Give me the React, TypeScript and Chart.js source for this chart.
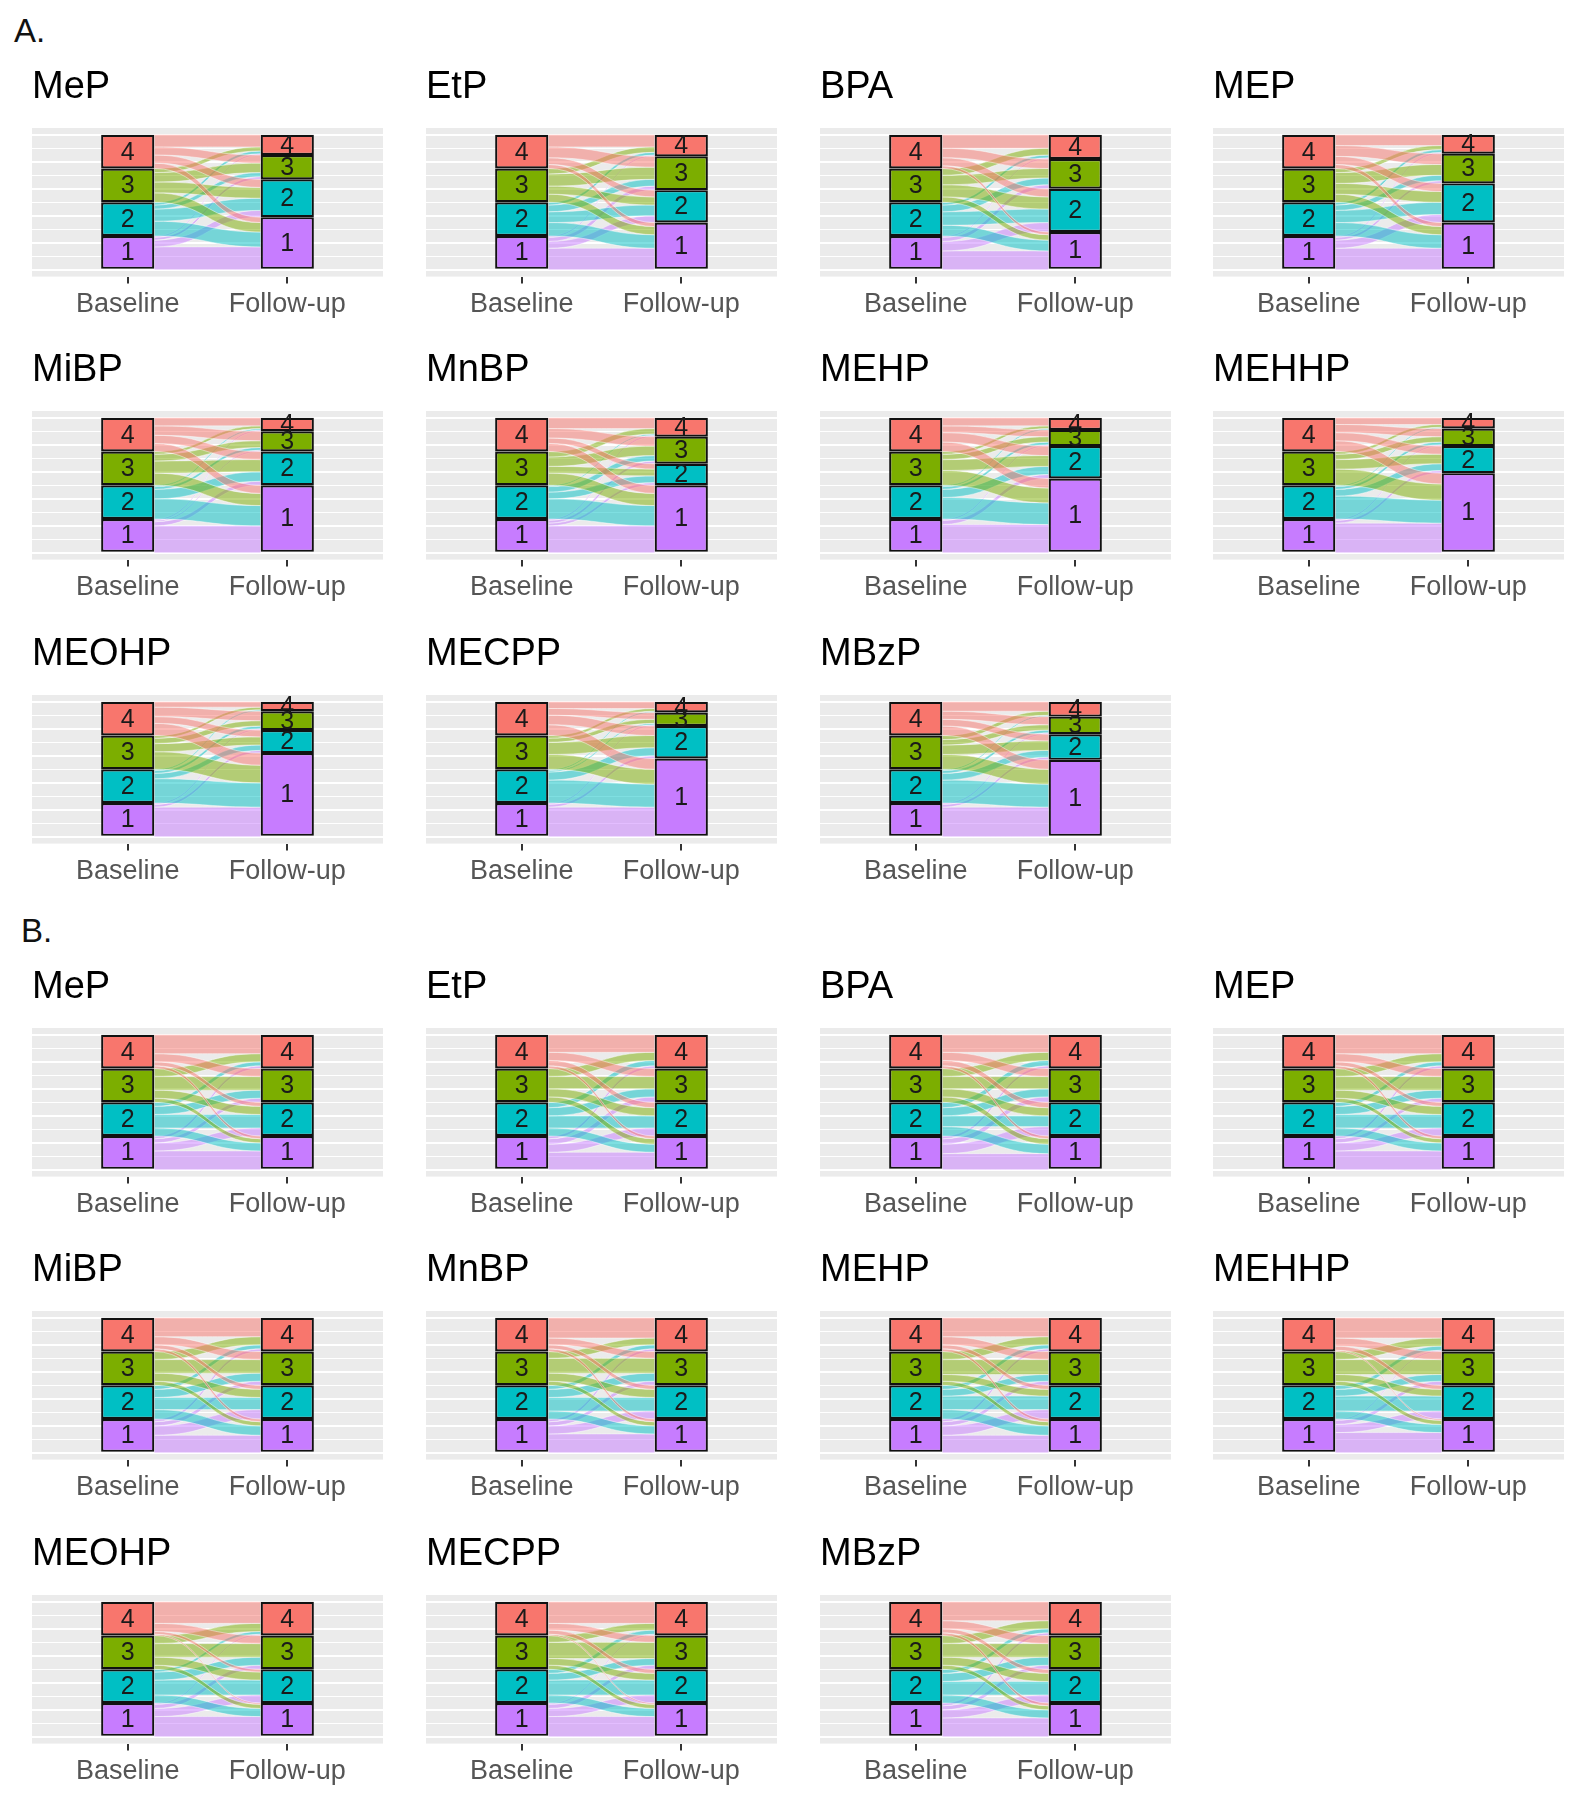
import React, { useEffect, useRef } from 'react';
import { Chart, registerables } from 'chart.js';

Chart.register(...registerables);

const FONT = '"Liberation Sans", Arial, Helvetica, sans-serif';

// ---------- data ----------
const TIMEPOINTS = ['Baseline', 'Follow-up'];
const TIMEPOINT_X = [1, 2];
const QUARTILES = ['1', '2', '3', '4'];
const QUARTILE_COLORS = ['#C77CFF', '#00BFC4', '#7CAE00', '#F8766D'];
const QUARTILE_FLOW_COLORS = [
  'rgba(199,124,255,0.5)',
  'rgba(0,191,196,0.5)',
  'rgba(124,174,0,0.5)',
  'rgba(248,118,109,0.5)',
];
const Y_GRID_TICKS = [0, 10, 20, 30, 40, 50, 60, 70, 80, 90, 100];
const ANALYTES = ['MeP', 'EtP', 'BPA', 'MEP', 'MiBP', 'MnBP', 'MEHP', 'MEHHP', 'MEOHP', 'MECPP', 'MBzP'];
const SECTIONS = ['A.', 'B.'];

// Transitions (% of participants): rows = baseline quartile 1..4, columns = follow-up quartile 1..4
// Section A
const A_MeP = [[17, 5, 2, 1], [11, 9, 3, 2], [7, 8, 7, 3], [4, 6, 6, 9]];
const A_EtP = [[16, 5, 3, 1], [10, 8, 5, 2], [6, 6, 9, 4], [3, 5, 8, 9]];
const A_BPA = [[14, 7, 3, 1], [8, 10, 5, 2], [4, 9, 7, 5], [2, 6, 7, 10]];
const A_MEP = [[16, 6, 2, 1], [10, 9, 4, 2], [6, 8, 8, 3], [3, 6, 8, 8]];
const A_MiBP = [[20, 3, 1, 1], [15, 7, 2, 1], [9, 9, 5, 2], [6, 6, 7, 6]];
const A_MnBP = [[20, 2, 2, 1], [15, 5, 4, 1], [9, 5, 7, 4], [6, 4, 7, 8]];
const A_MEHP = [[21, 3, 1, 0], [16, 6, 2, 1], [11, 8, 4, 2], [7, 7, 5, 6]];
const A_MEHHP = [[22, 2, 1, 0], [17, 5, 2, 1], [12, 7, 4, 2], [8, 6, 6, 5]];
const A_MEOHP = [[22, 2, 1, 0], [18, 4, 2, 1], [13, 6, 4, 2], [9, 5, 7, 4]];
const A_MECPP = [[22, 2, 1, 0], [17, 6, 1, 1], [11, 9, 3, 2], [8, 7, 5, 5]];
const A_MBzP = [[22, 2, 1, 0], [17, 5, 2, 1], [11, 7, 4, 3], [7, 5, 6, 7]];
// Section B
const B_MeP = [[14, 6, 3, 2], [6, 10, 6, 3], [3, 6, 10, 6], [2, 3, 6, 14]];
const B_EtP = [[13, 6, 4, 2], [6, 9, 6, 4], [4, 6, 9, 6], [2, 4, 6, 13]];
const B_BPA = [[12, 7, 4, 2], [7, 8, 6, 4], [4, 6, 9, 6], [2, 4, 6, 13]];
const B_MEP = [[14, 6, 3, 2], [6, 10, 6, 3], [3, 6, 10, 6], [2, 3, 6, 14]];
const B_MiBP = [[13, 7, 3, 2], [7, 9, 6, 3], [3, 6, 10, 6], [2, 3, 6, 14]];
const B_MnBP = [[14, 6, 3, 2], [6, 10, 6, 3], [3, 6, 11, 5], [2, 3, 5, 15]];
const B_MEHP = [[13, 7, 3, 2], [7, 10, 5, 3], [3, 5, 11, 6], [2, 3, 6, 14]];
const B_MEHHP = [[15, 6, 3, 1], [6, 11, 5, 3], [3, 5, 11, 6], [1, 3, 6, 15]];
const B_MEOHP = [[15, 6, 3, 1], [6, 11, 6, 2], [3, 6, 10, 6], [1, 2, 6, 16]];
const B_MECPP = [[15, 6, 3, 1], [6, 11, 5, 3], [3, 5, 12, 5], [1, 3, 5, 16]];
const B_MBzP = [[14, 6, 3, 2], [6, 10, 6, 3], [3, 6, 10, 6], [2, 3, 6, 14]];

const SECTION_A = [A_MeP, A_EtP, A_BPA, A_MEP, A_MiBP, A_MnBP, A_MEHP, A_MEHHP, A_MEOHP, A_MECPP, A_MBzP];
const SECTION_B = [B_MeP, B_EtP, B_BPA, B_MEP, B_MiBP, B_MnBP, B_MEHP, B_MEHHP, B_MEOHP, B_MECPP, B_MBzP];

// ---------- layout ----------
const COL_LEFT = [32, 426, 820, 1213];
const ROW_PANEL_TOP = [128, 411, 695];
const SECTION_OFFSET = [0, 900];
const SECTION_LABEL_POS = [{ left: 14, top: 14 }, { left: 21, top: 914 }];
const CANVAS_W = 351;
const CANVAS_H = 268;
const PANEL_TOP_OFFSET = 70;

const rowTotals = (m: number[][]) => m.map((r) => r.reduce((a, b) => a + b, 0));
const colTotals = (m: number[][]) => m[0].map((_, f) => m.reduce((a, r) => a + r[f], 0));

const panelBgPlugin = {
  id: 'panelBg',
  beforeDraw(chart: any) {
    const { ctx, chartArea: a } = chart;
    ctx.save();
    ctx.fillStyle = '#ebebeb';
    ctx.fillRect(a.left, a.top, a.right - a.left, a.bottom - a.top);
    ctx.restore();
  },
};

function makeFlowPlugin(matrix: number[][]) {
  return {
    id: 'alluvialFlows',
    beforeDatasetsDraw(chart: any) {
      const { ctx, chartArea, scales } = chart;
      const y = scales.y;
      const meta = chart.getDatasetMeta(0);
      const lb = meta.data[0];
      const rb = meta.data[1];
      const x0 = lb.x + lb.width / 2;
      const x1 = rb.x - rb.width / 2;
      const xm = (x0 + x1) / 2;
      const n = matrix.length;
      const rs = rowTotals(matrix);
      const cs = colTotals(matrix);
      const lo0 = matrix.map((r) => r.map(() => 0));
      const lo1 = matrix.map((r) => r.map(() => 0));
      let acc = 0;
      for (let b = 0; b < n; b++) {
        let c = acc;
        for (let f = 0; f < n; f++) {
          lo0[b][f] = c;
          c += matrix[b][f];
        }
        acc += rs[b];
      }
      acc = 0;
      for (let f = 0; f < n; f++) {
        let c = acc;
        for (let b = 0; b < n; b++) {
          lo1[b][f] = c;
          c += matrix[b][f];
        }
        acc += cs[f];
      }
      ctx.save();
      ctx.beginPath();
      ctx.rect(chartArea.left, chartArea.top, chartArea.right - chartArea.left, chartArea.bottom - chartArea.top);
      ctx.clip();
      for (let b = 0; b < n; b++) {
        for (let f = 0; f < n; f++) {
          const v = matrix[b][f];
          if (v <= 0) continue;
          const yT0 = y.getPixelForValue(lo0[b][f] + v);
          const yB0 = y.getPixelForValue(lo0[b][f]);
          const yT1 = y.getPixelForValue(lo1[b][f] + v);
          const yB1 = y.getPixelForValue(lo1[b][f]);
          ctx.beginPath();
          ctx.moveTo(x0, yT0);
          ctx.bezierCurveTo(xm, yT0, xm, yT1, x1, yT1);
          ctx.lineTo(x1, yB1);
          ctx.bezierCurveTo(xm, yB1, xm, yB0, x0, yB0);
          ctx.closePath();
          ctx.fillStyle = QUARTILE_FLOW_COLORS[b];
          ctx.fill();
          ctx.strokeStyle = 'rgba(255,255,255,0.45)';
          ctx.lineWidth = 1;
          ctx.stroke();
        }
      }
      ctx.restore();
    },
  };
}

const stratumLabelPlugin = {
  id: 'stratumLabels',
  afterDatasetsDraw(chart: any) {
    const ctx = chart.ctx;
    ctx.save();
    ctx.font = `25px ${FONT}`;
    ctx.fillStyle = '#1a1a1a';
    ctx.textAlign = 'center';
    ctx.textBaseline = 'middle';
    chart.data.datasets.forEach((ds: any, i: number) => {
      chart.getDatasetMeta(i).data.forEach((el: any) => {
        const { x, y, base } = el.getProps(['x', 'y', 'base'], true);
        ctx.fillText(ds.label, x, (y + base) / 2 + 1);
      });
    });
    ctx.restore();
  },
};

function Panel({ title, matrix, left, top }: { title: string; matrix: number[][]; left: number; top: number }) {
  const ref = useRef<HTMLCanvasElement>(null);
  useEffect(() => {
    if (!ref.current) return;
    const rs = rowTotals(matrix);
    const cs = colTotals(matrix);
    const chart = new Chart(ref.current, {
      type: 'bar',
      data: {
        datasets: QUARTILES.map((q, i) => ({
          label: q,
          data: [
            { x: TIMEPOINT_X[0], y: rs[i] },
            { x: TIMEPOINT_X[1], y: cs[i] },
          ],
          backgroundColor: QUARTILE_COLORS[i],
          borderColor: '#111111',
          borderWidth: 2.2,
          borderSkipped: false,
          categoryPercentage: 1,
          barPercentage: 1 / 3,
        })),
      } as any,
      options: {
        animation: false,
        responsive: false,
        devicePixelRatio: 1,
        layout: { padding: 0 },
        plugins: {
          legend: { display: false },
          tooltip: { enabled: false },
          title: {
            display: true,
            text: title,
            align: 'start',
            color: '#000000',
            font: { family: FONT, size: 38, weight: 'normal', lineHeight: 1.2 },
            padding: { top: 7, bottom: 17.4 },
          },
        },
        scales: {
          x: {
            type: 'linear',
            min: 0.4,
            max: 2.6,
            bounds: 'data',
            offset: false,
            stacked: true,
            afterBuildTicks: (s: any) => {
              s.ticks = TIMEPOINT_X.map((v) => ({ value: v }));
            },
            ticks: {
              autoSkip: false,
              maxRotation: 0,
              padding: 5,
              color: '#555555',
              font: { family: FONT, size: 27, lineHeight: 1.2 },
              callback: (v: any) => TIMEPOINTS[TIMEPOINT_X.indexOf(Number(v))] ?? '',
            },
            grid: {
              display: true,
              drawOnChartArea: false,
              drawTicks: true,
              tickLength: 7,
              color: '#333333',
              lineWidth: 2,
              offset: false,
            },
            border: { display: false },
          },
          y: {
            type: 'linear',
            min: -5,
            max: 105,
            bounds: 'data',
            stacked: true,
            afterBuildTicks: (s: any) => {
              s.ticks = Y_GRID_TICKS.map((v) => ({ value: v }));
            },
            ticks: { display: false },
            grid: {
              color: '#ffffff',
              drawTicks: false,
              lineWidth: (c: any) => (c.tick && c.tick.value % 20 === 0 ? 2 : 1),
            },
            border: { display: false },
          },
        },
      } as any,
      plugins: [panelBgPlugin, makeFlowPlugin(matrix), stratumLabelPlugin],
    });
    return () => chart.destroy();
  }, [title, matrix]);
  return (
    <canvas
      ref={ref}
      width={CANVAS_W}
      height={CANVAS_H}
      style={{ position: 'absolute', left, top: top - PANEL_TOP_OFFSET, width: CANVAS_W, height: CANVAS_H }}
    />
  );
}

export default function App() {
  const sections = [SECTION_A, SECTION_B];
  return (
    <div
      style={{
        position: 'absolute',
        left: 0,
        top: 0,
        width: 1572,
        height: 1800,
        background: '#ffffff',
        overflow: 'hidden',
        fontFamily: FONT,
      }}
    >
      {sections.map((sec, s) => (
        <React.Fragment key={s}>
          <div
            style={{
              position: 'absolute',
              left: SECTION_LABEL_POS[s].left,
              top: SECTION_LABEL_POS[s].top,
              fontSize: 33,
              lineHeight: '33px',
              color: '#111',
            }}
          >
            {SECTIONS[s]}
          </div>
          {ANALYTES.map((name, i) => (
            <Panel
              key={`${s}-${name}`}
              title={name}
              matrix={sec[i]}
              left={COL_LEFT[i % 4]}
              top={ROW_PANEL_TOP[Math.floor(i / 4)] + SECTION_OFFSET[s]}
            />
          ))}
        </React.Fragment>
      ))}
    </div>
  );
}
